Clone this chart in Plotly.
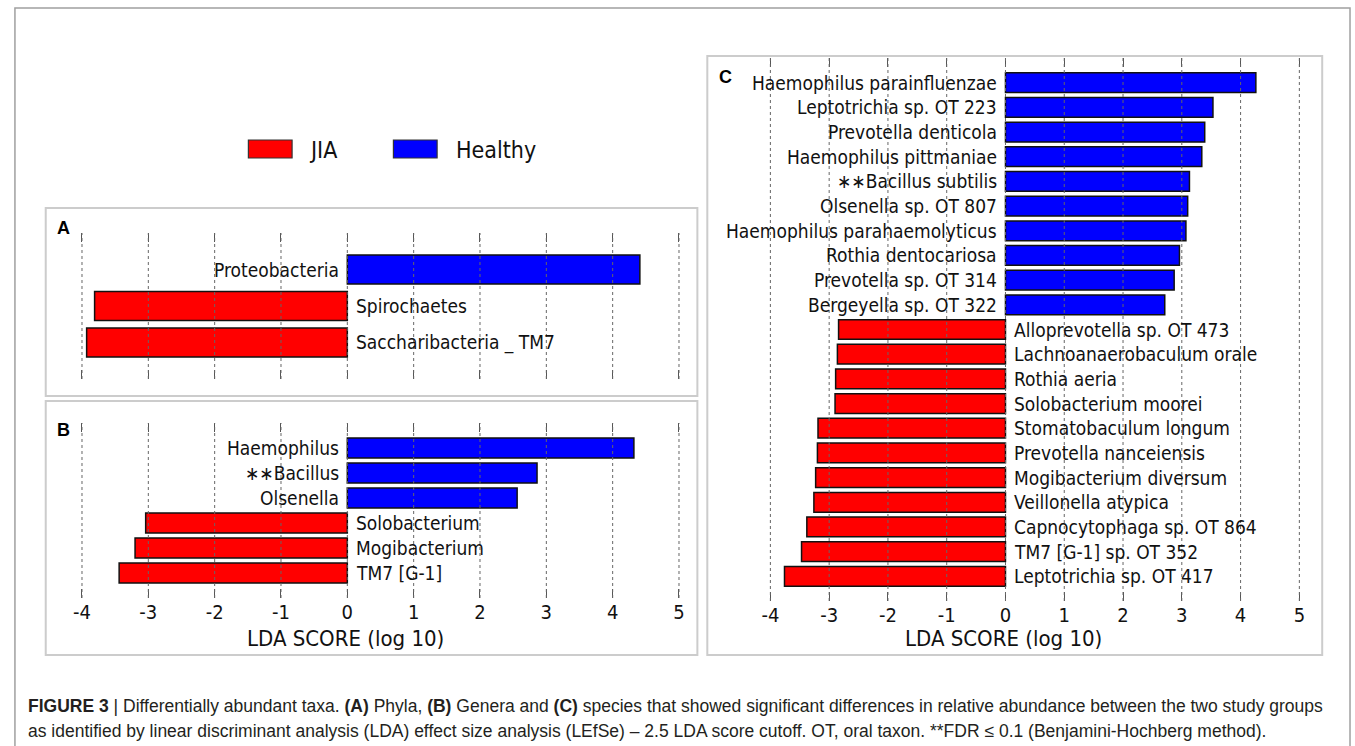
import plotly.graph_objects as go

W, H = 1355, 746

# ---------------- data ----------------
groups = ["JIA", "Healthy"]
group_colors = {"JIA": "#FF0000", "Healthy": "#0000FF"}

phyla = ["Proteobacteria", "Spirochaetes", "Saccharibacteria _ TM7"]
phyla_lda = [4.41, -3.81, -3.93]

genera = ["Haemophilus", "∗∗Bacillus", "Olsenella", "Solobacterium", "Mogibacterium", "TM7 [G-1]"]
genera_lda = [4.32, 2.86, 2.56, -3.04, -3.20, -3.44]

species = ["Haemophilus parainfluenzae", "Leptotrichia sp. OT 223", "Prevotella denticola",
           "Haemophilus pittmaniae", "∗∗Bacillus subtilis", "Olsenella sp. OT 807",
           "Haemophilus parahaemolyticus", "Rothia dentocariosa", "Prevotella sp. OT 314",
           "Bergeyella sp. OT 322", "Alloprevotella sp. OT 473", "Lachnoanaerobaculum orale",
           "Rothia aeria", "Solobacterium moorei", "Stomatobaculum longum",
           "Prevotella nanceiensis", "Mogibacterium diversum", "Veillonella atypica",
           "Capnocytophaga sp. OT 864", "TM7 [G-1] sp. OT 352", "Leptotrichia sp. OT 417"]
species_lda = [4.26, 3.53, 3.39, 3.34, 3.13, 3.10, 3.07, 2.96, 2.87, 2.71,
               -2.84, -2.86, -2.89, -2.90, -3.19, -3.20, -3.23, -3.26, -3.38, -3.47, -3.76]

tick_vals = [-4, -3, -2, -1, 0, 1, 2, 3, 4, 5]
tick_text = ["-4", "-3", "-2", "-1", "0", "1", "2", "3", "4", "5"]
axis_title = "LDA SCORE (log 10)"

# ---------------- helpers ----------------
def px(x):
    return x / W

def py(y):
    return 1 - y / H

LABEL_FONT = "DejaVu Sans Condensed, DejaVu Sans"
fig = go.Figure()

panels = [
    # (labels, values, axis suffix, x-pixels for -4 and 5, y-pixel top/bottom, show ticklabels)
    (phyla, phyla_lda, "", (76.5, 677.5), (233, 379), False),
    (genera, genera_lda, "2", (76.5, 677.5), (423, 598), True),
    (species, species_lda, "3", (769.5, 1302), (58, 601), True),
]

annotations = []
shapes = []
pad = 0.05
for labels, vals, sfx, (xa, xb), (yt, yb), show_tl in panels:
    n = len(labels)
    idx = list(range(n))
    for g in groups:
        sel = [i for i in idx if (vals[i] < 0) == (g == "JIA")]
        fig.add_trace(go.Bar(
            x=[vals[i] for i in sel], y=sel, orientation="h", width=0.8,
            marker=dict(color=group_colors[g], line=dict(color="#111111", width=1.5)),
            xaxis="x" + sfx, yaxis="y" + sfx, showlegend=False, name=g,
        ))
    unit = (xb - xa) / 9.0
    dom_x = [px(xa - pad * unit), px(xb + pad * unit)]
    dom_y = [py(yb), py(yt)]
    fig.layout["xaxis" + sfx] = dict(
        domain=dom_x, range=[-4 - pad, 5 + pad], anchor="y" + sfx,
        tickvals=tick_vals, ticktext=tick_text, showticklabels=show_tl,
        ticks="inside", ticklen=9, tickwidth=1, tickcolor="#555555", mirror="ticks",
        showline=False, showgrid=False, zeroline=False,
        tickfont=dict(family=LABEL_FONT, size=20, color="#111111"),
        layer="above traces",
    )
    fig.layout["yaxis" + sfx] = dict(
        domain=dom_y, range=[n, -1], anchor="x" + sfx,
        showticklabels=False, showgrid=False, zeroline=False, ticks="", showline=False,
    )
    # dotted grid lines drawn above bars
    for tv in tick_vals:
        shapes.append(dict(type="line", xref="x" + sfx, yref="y" + sfx + " domain",
                           x0=tv, x1=tv, y0=0, y1=1, layer="above",
                           line=dict(color="#666666", width=1, dash="dot")))
    # bar labels
    for i, (lab, v) in enumerate(zip(labels, vals)):
        annotations.append(dict(
            x=0, y=i, xref="x" + sfx, yref="y" + sfx, text=lab, showarrow=False,
            xanchor="right" if v > 0 else "left", xshift=-6 if v > 0 else 7,
            font=dict(family=LABEL_FONT, size=19, color="#111111"),
        ))
    if show_tl:
        annotations.append(dict(
            x=0, y=py(638), xref="x" + sfx, yref="paper", text=axis_title, showarrow=False,
            xanchor="center", yanchor="middle", xshift=-2,
            font=dict(family=LABEL_FONT, size=22, color="#111111"),
        ))

# panel boxes
for (x0, y0, x1, y1) in [(40, 208, 696, 396), (40, 401, 696, 655), (706, 56, 1325, 655)]:
    shapes.append(dict(type="rect", xref="paper", yref="paper",
                       x0=px(x0), x1=px(x1), y0=py(y1), y1=py(y0),
                       line=dict(color="#CCCCCC", width=2), layer="below"))
# outer frame
shapes.append(dict(type="rect", xref="paper", yref="paper",
                   x0=px(9), x1=px(1353), y0=py(770), y1=py(8),
                   line=dict(color="#A0A0A0", width=1.5), layer="below"))

# panel letters
for letter, (lx, ly) in zip(["A", "B", "C"], [(58, 228), (58, 430), (724, 77)]):
    annotations.append(dict(x=px(lx), y=py(ly), xref="paper", yref="paper", text="<b>%s</b>" % letter,
                            showarrow=False, xanchor="center", yanchor="middle",
                            font=dict(family="Liberation Sans, Arial", size=18, color="#000000")))

# legend (manual)
for g, (sx, tx) in zip(groups, [(244, 303), (390, 451)]):
    shapes.append(dict(type="rect", xref="paper", yref="paper",
                       x0=px(sx), x1=px(sx + 44), y0=py(158), y1=py(140),
                       fillcolor=group_colors[g], line=dict(color="#333333", width=1.2)))
    annotations.append(dict(x=px(tx), y=py(150), xref="paper", yref="paper", text=g,
                            showarrow=False, xanchor="left", yanchor="middle",
                            font=dict(family=LABEL_FONT, size=23, color="#111111")))

# caption
cap1 = ("<b>FIGURE 3</b> | Differentially abundant taxa. <b>(A)</b> Phyla, <b>(B)</b> Genera and <b>(C)</b> "
        "species that showed significant differences in relative abundance between the two study groups")
cap2 = ("as identified by linear discriminant analysis (LDA) effect size analysis (LEfSe) – 2.5 LDA score "
        "cutoff. OT, oral taxon. **FDR ≤ 0.1 (Benjamini-Hochberg method).")
CAP_FONT = "Liberation Sans, Arial"
for txt, yy in [(cap1, 706), (cap2, 731)]:
    annotations.append(dict(x=px(20), y=py(yy), xref="paper", yref="paper", text=txt,
                            showarrow=False, xanchor="left", yanchor="middle",
                            font=dict(family=CAP_FONT, size=17.5, color="#231F20")))

fig.update_layout(
    width=W, height=H, margin=dict(l=0, r=0, t=0, b=0),
    paper_bgcolor="white", plot_bgcolor="rgba(0,0,0,0)",
    barmode="overlay", showlegend=False,
    shapes=shapes, annotations=annotations,
)

fig.write_html("out.html")
